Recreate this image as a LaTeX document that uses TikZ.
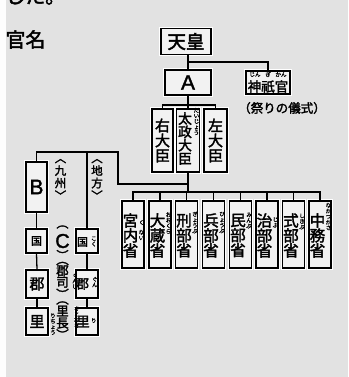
\documentclass[tikz,border=0pt]{standalone}
\usepackage{fontspec}
\newfontfamily\jp[FakeBold=1.5]{Noto Sans CJK JP}
\newfontfamily\jpm[FakeBold=2.2]{Noto Sans CJK JP}
\newfontfamily\lat[FakeBold=1.6]{Liberation Sans}
\definecolor{bg}{RGB}{226,226,226}
\definecolor{boxfill}{RGB}{242,242,242}
\tikzset{
  box/.style={draw=black, line width=1.4pt, fill=boxfill, inner sep=0pt, align=center,
    preaction={draw=white, line width=3.4pt}},
  conn/.style={line width=1.3pt, black},
  vtx/.style={inner sep=0pt, align=center},
  ruby/.style={inner sep=0pt, align=center, font=\jp\fontsize{5.6}{5.6}\selectfont},
  mini/.style={box, minimum width=22pt, minimum height=67pt},
  dai/.style={box, minimum height=63pt},
  small/.style={box, minimum width=22pt},
}
\newcommand{\mfont}{\jpm\fontsize{15.5}{15}\selectfont}
\begin{document}
\begin{tikzpicture}[x=1pt,y=-1pt]
\useasboundingbox (0,0) rectangle (348,377);
\fill[bg] (0,0) rectangle (348,377);
\fill[white!92!bg] (0,0) rectangle (6,377);
\begin{scope}
\clip (0,0) rectangle (348,377);
\node[vtx, font=\jpm\fontsize{20}{20}\selectfont, anchor=west] (ue) at (5,-4) {した。};
\end{scope}
\node[vtx, font=\jpm\fontsize{20}{20}\selectfont] (title) at (25.5,39.5) {官名};

% top
\node[box, minimum width=50pt, minimum height=26pt, font=\jpm\fontsize{18.5}{18.5}\selectfont] (tenno) at (186,41.5) {天皇};
\node[box, minimum width=46pt, minimum height=25pt, font=\lat\fontsize{21}{21}\selectfont] (A) at (188,82.5) {A};
\node[box, minimum width=44pt, minimum height=23pt] (jingi) at (268,82.5) {};
\node[vtx, font=\jpm\fontsize{13.5}{13.5}\selectfont] (jingit) at (268,86.5) {神祇官};
\node[ruby] (r1) at (255,74.5) {じん};
\node[ruby] (r2) at (268,74.5) {ぎ};
\node[ruby] (r3) at (281,74.5) {かん};
\node[vtx, font=\jpm\fontsize{12.5}{12.5}\selectfont] (matsuri) at (282,108) {（祭りの儀式）};

% ministers
\node[dai, minimum width=21pt, font=\jpm\fontsize{15}{15}\selectfont] (udaijin) at (162.5,140.5) {右\\大\\臣};
\node[dai, minimum width=23pt] (daijo) at (188,140.5) {};
\node[vtx, font=\jpm\fontsize{13.8}{13.3}\selectfont] (daijot) at (185,138.5) {太\\政\\大\\臣};
\node[ruby] (rd) at (196.5,121.5) {だ\\い\\じ\\ょ\\う};
\node[dai, minimum width=23pt, font=\jpm\fontsize{15}{15}\selectfont] (sadaijin) at (215.5,140.5) {左\\大\\臣};

% ministries
\foreach \nm/\cx/\txt in {kunai/133/宮\\内\\省, okura/160/大\\蔵\\省, gyobu/186.5/刑\\部\\省, hyobu/213.5/兵\\部\\省, minbu/240.5/民\\部\\省, jibu/267/治\\部\\省, shikibu/293.5/式\\部\\省, naka/320/中\\務\\省}{
  \node[mini] (\nm) at (\cx,234.5) {};
  \node[vtx, font=\mfont] (\nm t) at (\cx-2.5,235.5) {\txt};
}
\node[ruby] (rk1) at (141.5,222.5) {く};
\node[ruby] (rk2) at (141.5,235) {な\\い};
\node[ruby] (ro) at (168.5,223) {お\\お\\く\\ら};
\node[ruby] (rg) at (195,222.5) {ぎ\\ょ\\う\\ぶ};
\node[ruby] (rh) at (222,222.5) {ひ\\ょ\\う\\ぶ};
\node[ruby] (rm) at (249,220.5) {み\\ん\\ぶ};
\node[ruby] (rj) at (275.5,222.5) {じ\\ぶ};
\node[ruby] (rs) at (302,221.5) {し\\き\\ぶ};
\node[ruby] (rn) at (328.5,216.5) {な\\か\\つ\\か\\さ};

% left
\node[box, minimum width=21pt, minimum height=50pt, font=\lat\fontsize{21}{21}\selectfont] (B) at (36.5,187) {B};
\node[vtx, font=\jpm\fontsize{11.5}{12.5}\selectfont] (kyushu) at (60.5,179.5) {︿\\九\\州\\﹀};
\node[vtx, font=\jpm\fontsize{11.5}{12.5}\selectfont] (chiho) at (97,179.5) {︿\\地\\方\\﹀};

\node[small, minimum width=21pt, minimum height=24pt, font=\jpm\fontsize{11}{11}\selectfont] (kuniL) at (36.5,241) {国};
\node[small, minimum height=28pt, font=\jpm\fontsize{15}{15}\selectfont] (gunL) at (37,284) {郡};
\node[small, minimum height=27pt, font=\jpm\fontsize{15}{15}\selectfont] (satoL) at (37,321.5) {里};

\node[small, minimum height=24pt] (kuniR) at (87,241) {};
\node[vtx, font=\jpm\fontsize{11}{11}\selectfont] (kuniRt) at (82.5,242) {国};
\node[ruby] (rkoku) at (93.8,241.5) {こ\\く};
\node[small, minimum height=28pt] (gunR) at (87,284) {};
\node[vtx, font=\jpm\fontsize{13}{13}\selectfont] (gunRt) at (82.5,284) {郡};
\node[ruby] (rgun) at (94.8,282) {ぐ\\ん};
\node[small, minimum height=27pt] (satoR) at (87,321.5) {};
\node[vtx, font=\jpm\fontsize{13.5}{13.5}\selectfont] (satoRt) at (83,321.5) {里};
\node[ruby] (rri) at (93.8,320.5) {り};

% C column
\node[vtx, font=\jpm\fontsize{12}{12}\selectfont] (cp1) at (62.5,227) {︵};
\node[vtx, font=\lat\fontsize{20}{20}\selectfont] (C) at (62.5,241) {C};
\node[vtx, font=\jpm\fontsize{12}{12}\selectfont] (cp2) at (62.5,255) {︶};
\node[vtx, font=\jpm\fontsize{12.5}{11.3}\selectfont] (gunji) at (62.5,280.5) {︵\\郡\\司\\︶};
\node[ruby] (rgunji) at (75,281) {ぐ\\ん\\じ};
\node[vtx, font=\jpm\fontsize{12.5}{12}\selectfont] (satoosa) at (62.5,320.5) {︵\\里\\長\\︶};
\node[ruby] (rsatoosa) at (76.5,317) {さ\\と\\お\\さ};
\node[ruby] (rricho) at (53,324) {り\\ち\\ょ\\う};

% connectors
\draw[conn] (tenno.south -| A.north) -- (A.north);
\coordinate (j1) at (188,62);
\draw[conn] (j1) -| (jingi.north);
\coordinate (j2) at (188,105);
\draw[conn] (A.south) -- (daijo.north);
\draw[conn] (udaijin.north) |- (j2) -| (sadaijin.north);
\coordinate (j3) at (188,192);
\coordinate (j4) at (188,184);
\draw[conn] (daijo.south) -- (j3);
\draw[conn] (kunai.north) |- (j3) -| (naka.north);
\foreach \nm in {okura,gyobu,hyobu,minbu,jibu,shikibu}{
  \draw[conn] (\nm.north) -- (\nm.north |- j3);
}
\coordinate (j5) at (118,152);
\draw[conn] (j4) -| (j5) -| (B.north);
\draw[conn] (kuniR.north) -- (kuniR.north |- j5);
\draw[conn] (B.south) -- (kuniL.north);
\draw[conn] (kuniL.south) -- (gunL.north);
\draw[conn] (gunL.south) -- (satoL.north);
\draw[conn] (kuniR.south) -- (gunR.north);
\draw[conn] (gunR.south) -- (satoR.north);
\end{tikzpicture}
\end{document}
